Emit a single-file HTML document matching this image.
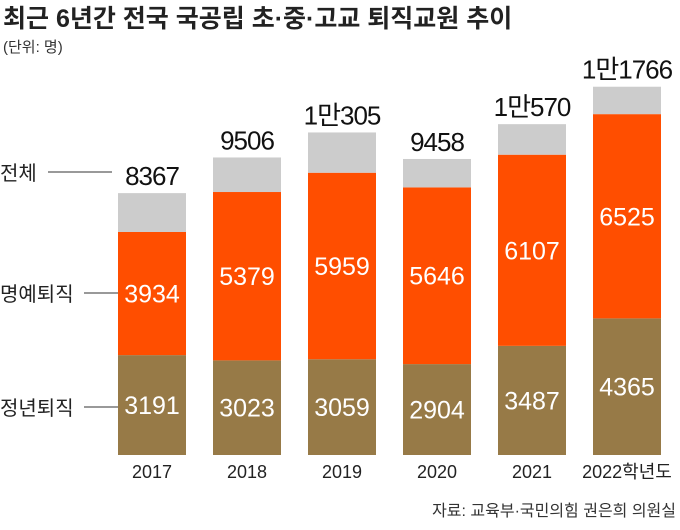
<!DOCTYPE html>
<html><head><meta charset="utf-8">
<style>
body{margin:0;background:#fff;}
svg text{font-family:"Liberation Sans","Noto Sans CJK KR",sans-serif;}
</style></head>
<body>
<svg width="680" height="525" viewBox="0 0 680 525">
<text x="3" y="27" font-size="25" font-weight="bold" fill="#222">최근 6년간 전국 국공립 초·중·고교 퇴직교원 추이</text>
<text x="3" y="52" font-size="15" fill="#333">(단위: 명)</text>
<g id="bars"></g>
<text x="0" y="180" font-size="20" fill="#222">전체</text>
<line x1="48" y1="172" x2="112" y2="172" stroke="#333" stroke-width="1"/>
<text x="0" y="301" font-size="20" fill="#222">명예퇴직</text>
<line x1="84" y1="293" x2="118" y2="293" stroke="#333" stroke-width="1"/>
<text x="0" y="415" font-size="20" fill="#222">정년퇴직</text>
<line x1="84" y1="407" x2="118" y2="407" stroke="#333" stroke-width="1"/>
<text x="676" y="516" font-size="16" text-anchor="end" fill="#333">자료: 교육부·국민의힘 권은희 의원실</text>
</svg>
<script>
const categories=["2017","2018","2019","2020","2021","2022학년도"];
const mandatory=[3191,3023,3059,2904,3487,4365];
const honorary=[3934,5379,5959,5646,6107,6525];
const totals=[8367,9506,10305,9458,10570,11766];
const totalLabels=["8367","9506","1만305","9458","1만570","1만1766"];
const NS="http://www.w3.org/2000/svg";
const g=document.getElementById('bars');
const base=455, k=0.0313, x0=118, step=95, bw=68;
const y=v=>base-v*k;
function mk(t,a){const e=document.createElementNS(NS,t);for(const n in a)e.setAttribute(n,a[n]);g.appendChild(e);return e;}
categories.forEach((c,i)=>{
  const x=x0+i*step;
  const m=mandatory[i],h=honorary[i],t=totals[i];
  let r=mk('rect',{x:x,y:y(m),width:bw,height:m*k,fill:'#977a47'});
  
  
  r=mk('rect',{x:x,y:y(m+h),width:bw,height:h*k,fill:'#ff4e00'});
  
  
  r=mk('rect',{x:x,y:y(t),width:bw,height:(t-m-h)*k,fill:'#cccccc'});
  
  
  let tx=mk('text',{x:x+bw/2,y:(y(m)+base)/2+9,'font-size':25,fill:'#fff','text-anchor':'middle'});
  tx.textContent=m;
  
  
  tx=mk('text',{x:x+bw/2,y:(y(m)+y(m+h))/2+9,'font-size':25,fill:'#fff','text-anchor':'middle'});
  tx.textContent=h;
  
  
  tx=mk('text',{x:x+bw/2,y:y(t)-8,'font-size':26,fill:'#111','text-anchor':'middle','letter-spacing':'-1'});
  tx.textContent=totalLabels[i];
  
  
  tx=mk('text',{x:x+bw/2,y:478,'font-size':18,fill:'#222','text-anchor':'middle'});
  tx.textContent=c;
  
  
});
</script>
</body></html>
